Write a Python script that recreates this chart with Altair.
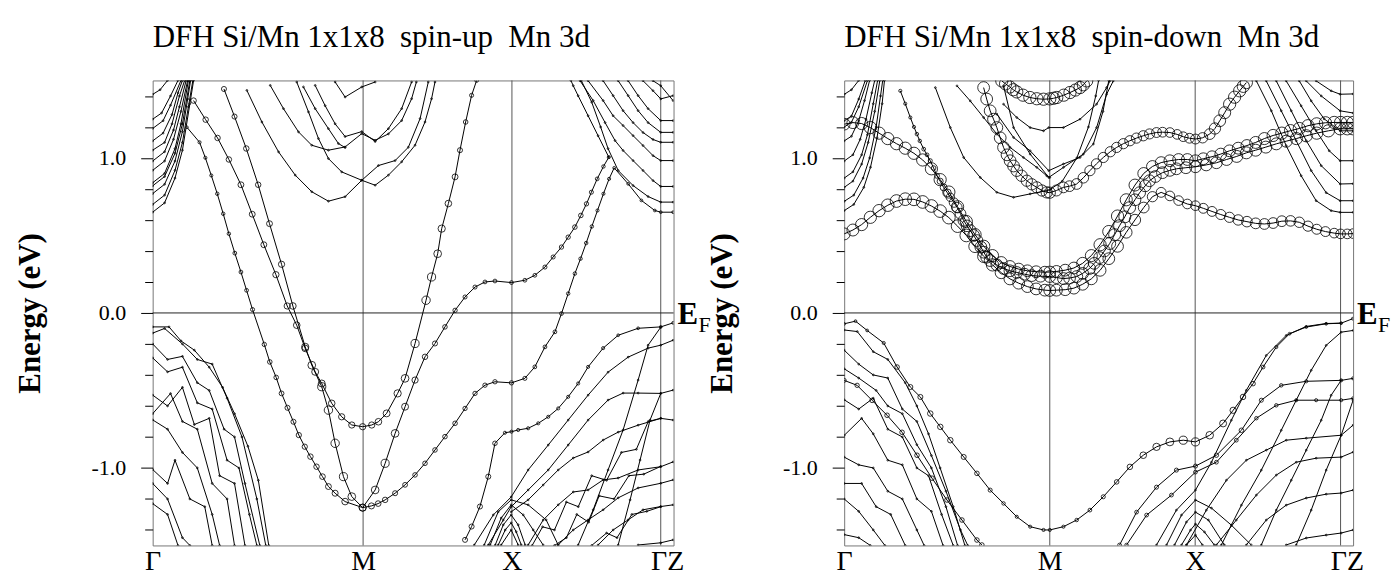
import altair as alt
import pandas as pd

SERIF = "Liberation Serif"

# ---------------- axes / labels ----------------
K_DOMAIN = [0.0, 3.5]
E_DOMAIN = [-1.5, 1.5]
K_SYM = [1.414, 2.414, 3.414]
K_LABEL_POS = [0.0, 1.414, 2.414, 3.457]
K_LABEL_TEXT = ["Γ", "M", "X", "ΓZ"]
E_TICKS = [-1.4, -1.2, -1.0, -0.8, -0.6, -0.4, -0.2, 0.0, 0.2, 0.4, 0.6, 0.8, 1.0, 1.2, 1.4]
E_LABEL_POS = [-1.0, 0.0, 1.0]
E_LABEL_TEXT = ["-1.0", "0.0", "1.0"]
EF_TEXT = ["E", "F"]
TITLE_UP = "DFH Si/Mn 1x1x8 \u00a0spin-up \u00a0Mn 3d"
TITLE_DN = "DFH Si/Mn 1x1x8 \u00a0spin-down \u00a0Mn 3d"
Y_TITLE = "Energy (eV)"

# ---------------- spin-up: bands with Mn-3d weight (k, E, w) ----------------
UP_D_A = [(0.275,1.37,0.12),(0.356,1.247,0.12),(0.436,1.129,0.12),(0.512,0.99,0.12),(0.593,0.827,0.14),
          (0.669,0.637,0.14),(0.747,0.44,0.14),(0.828,0.247,0.16),(0.904,0.045,0.16),(0.968,-0.079,0.18),
          (1.025,-0.229,0.18),(1.092,-0.38,0.2),(1.136,-0.455,0.2),(1.203,-0.583,0.18),(1.27,-0.67,0.16),
          (1.338,-0.723,0.16),(1.411,-0.734,0.16),(1.472,-0.723,0.16),(1.517,-0.702,0.18),(1.572,-0.648,0.2),
          (1.646,-0.519,0.22),(1.696,-0.422,0.25),(1.763,-0.197,0.28),(1.837,0.082,0.3),(1.874,0.232,0.28),
          (1.915,0.382,0.25),(1.942,0.544,0.22),(1.987,0.706,0.18),(2.032,0.878,0.14),(2.065,1.05,0.1),
          (2.103,1.232,0.08),(2.143,1.404,0.06),(2.177,1.5,0.05)]
UP_D_C = [(0.479,1.445,0.1),(0.55,1.267,0.1),(0.629,1.061,0.12),(0.709,0.827,0.12),(0.785,0.576,0.14),
          (0.866,0.314,0.16),(0.942,0.045,0.18),(1.025,-0.219,0.22),(1.069,-0.337,0.25),(1.136,-0.476,0.28),
          (1.181,-0.627,0.3),(1.226,-0.841,0.3),(1.282,-1.056,0.28),(1.338,-1.185,0.25),(1.411,-1.256,0.22),
          (1.495,-1.142,0.25),(1.562,-0.97,0.28),(1.629,-0.777,0.25),(1.696,-0.605,0.2),(1.763,-0.433,0.16),
          (1.83,-0.283,0.12),(1.897,-0.197,0.1),(1.964,-0.09,0.08),(2.032,0.017,0.07),(2.099,0.103,0.06),
          (2.166,0.167,0.06),(2.233,0.2,0.05),(2.3,0.206,0.05),(2.411,0.196,0.05),(2.501,0.211,0.05),
          (2.568,0.243,0.05),(2.636,0.296,0.06),(2.691,0.361,0.06),(2.747,0.425,0.07),(2.792,0.489,0.07),
          (2.837,0.554,0.08),(2.877,0.629,0.08),(2.915,0.704,0.07),(2.948,0.779,0.06),(2.987,0.865,0.05),
          (3.029,0.945,0.04),(3.065,1.005,0.03)]
UP_D_B = [(0.23,1.198,0.02),(0.315,1.101,0.03),(0.354,1.001,0.03),(0.394,0.887,0.03),(0.434,0.769,0.04),
          (0.474,0.64,0.04),(0.512,0.511,0.04),(0.552,0.386,0.05),(0.593,0.264,0.05),(0.631,0.146,0.05),
          (0.671,0.022,0.06),(0.75,-0.203,0.07),(0.787,-0.316,0.08),(0.83,-0.416,0.08),(0.866,-0.519,0.09),
          (0.906,-0.612,0.1),(0.946,-0.702,0.1),(0.982,-0.788,0.11),(1.022,-0.863,0.11),(1.06,-0.927,0.12),
          (1.101,-0.992,0.12),(1.141,-1.056,0.13),(1.181,-1.12,0.14),(1.226,-1.163,0.15),(1.293,-1.217,0.18),
          (1.411,-1.256,0.2),(1.47,-1.245,0.15),(1.515,-1.23,0.13),(1.562,-1.206,0.12),(1.629,-1.163,0.1),
          (1.696,-1.109,0.09),(1.763,-1.045,0.08),(1.83,-0.97,0.08),(1.897,-0.884,0.08),(1.964,-0.798,0.08),
          (2.032,-0.712,0.08),(2.099,-0.616,0.07),(2.166,-0.519,0.07),(2.233,-0.466,0.07),(2.3,-0.444,0.07),
          (2.411,-0.451,0.07),(2.501,-0.422,0.06),(2.568,-0.348,0.05),(2.636,-0.219,0.05),(2.703,-0.122,0.05),
          (2.747,-0.004,0.05),(2.792,0.125,0.04),(2.837,0.254,0.04),(2.875,0.35,0.04),(2.913,0.451,0.04),
          (2.951,0.558,0.04),(2.989,0.661,0.03),(3.029,0.769,0.03),(3.067,0.865,0.03),(3.101,0.936,0.02),
          (3.195,0.833,0.02),(3.284,0.726,0.02),(3.374,0.661,0.02),(3.414,0.65,0.02),(3.497,0.65,0.02)]
UP_D_D = [(2.099,-1.464,0.1),(2.143,-1.378,0.1),(2.199,-1.249,0.1),(2.255,-1.056,0.1),(2.3,-0.841,0.08),
          (2.367,-0.773,0.03),(2.411,-0.766,0.03),(2.456,-0.755,0.03),(2.523,-0.744,0.03),(2.591,-0.712,0.03),
          (2.658,-0.67,0.03),(2.725,-0.616,0.03),(2.792,-0.541,0.03),(2.859,-0.455,0.03),(2.926,-0.348,0.03),
          (3.027,-0.227,0.03),(3.128,-0.144,0.02),(3.262,-0.099,0.02),(3.414,-0.09,0.02),(3.497,-0.064,0.02)]
UP_D_BANDS = [UP_D_A, UP_D_C, UP_D_B, UP_D_D]

# ---------------- spin-up: other bands (k, E) ----------------
UP_COND_G = [
    [(0,0.65),(0.08,0.71),(0.15,0.87),(0.2,1.05),(0.25,1.35),(0.275,1.5)],
    [(0,0.70),(0.08,0.76),(0.15,0.92),(0.2,1.1),(0.24,1.33),(0.27,1.5)],
    [(0,0.77),(0.08,0.83),(0.15,0.98),(0.2,1.17),(0.235,1.38),(0.255,1.5)],
    [(0,0.82),(0.08,0.88),(0.15,1.03),(0.2,1.22),(0.25,1.5)],
    [(0,0.84),(0.08,0.9),(0.15,1.06),(0.19,1.22),(0.24,1.5)],
    [(0,0.92),(0.08,0.98),(0.14,1.12),(0.19,1.3),(0.235,1.5)],
    [(0,0.98),(0.08,1.04),(0.14,1.18),(0.18,1.33),(0.225,1.5)],
    [(0,1.05),(0.08,1.1),(0.13,1.22),(0.18,1.4),(0.215,1.5)],
    [(0,1.11),(0.07,1.16),(0.13,1.28),(0.17,1.42),(0.2,1.5)],
    [(0,1.19),(0.07,1.24),(0.12,1.34),(0.19,1.5)],
    [(0,1.25),(0.06,1.29),(0.12,1.4),(0.17,1.5)],
    [(0,1.41),(0.05,1.44),(0.1,1.5)],
]
UP_COND_M = [
    [(0.633,1.436),(0.734,1.232),(0.846,1.039),(0.958,0.889),(1.069,0.782),(1.181,0.721),(1.293,0.75),(1.405,0.856),
     (1.495,0.824),(1.584,0.889),(1.673,0.975),(1.763,1.082),(1.83,1.232),(1.874,1.382),(1.897,1.49)],
    [(0.968,1.49),(1.047,1.297),(1.114,1.125),(1.181,0.996),(1.27,0.91),(1.405,0.856),(1.517,0.951),(1.629,0.983),
     (1.718,1.069),(1.797,1.254),(1.852,1.49)],
    [(0.79,1.468),(0.879,1.318),(0.98,1.168),(1.069,1.082),(1.181,1.05),(1.293,1.071),(1.405,1.157),(1.495,1.114),
     (1.584,1.155),(1.673,1.241),(1.74,1.382),(1.772,1.49)],
    [(1.092,1.468),(1.159,1.337),(1.226,1.22),(1.293,1.138),(1.405,1.17),(1.495,1.106),(1.584,1.189),(1.673,1.318),(1.74,1.49)],
    [(1.013,1.458),(1.092,1.318),(1.181,1.189),(1.248,1.093),(1.293,1.067)],
    [(1.226,1.49),(1.293,1.393),(1.405,1.458),(1.495,1.49)],
]
UP_COND_G2 = [
    [(3.065,1.005),(2.993,1.143),(2.926,1.272),(2.859,1.401),(2.826,1.466),(2.81,1.5)],
    [(2.872,1.498),(2.96,1.37),(3.04,1.228),(3.107,1.112),(3.161,1.048),(3.228,0.983),(3.295,0.919),(3.362,0.854),(3.414,0.816),(3.497,0.816)],
    [(2.88,1.5),(2.95,1.36),(3.01,1.2),(3.06,1.06),(3.128,0.919),(3.228,0.822),(3.329,0.751),(3.414,0.715),(3.497,0.715)],
    [(2.926,1.498),(3.027,1.37),(3.094,1.272),(3.161,1.209),(3.228,1.144),(3.295,1.08),(3.362,1.015),(3.414,0.983),(3.497,0.983)],
    [(3.027,1.498),(3.094,1.402),(3.161,1.305),(3.228,1.228),(3.295,1.164),(3.362,1.119),(3.414,1.101),(3.497,1.101)],
    [(3.128,1.498),(3.195,1.402),(3.262,1.305),(3.329,1.228),(3.414,1.165),(3.497,1.165)],
    [(3.195,1.498),(3.262,1.402),(3.329,1.318),(3.414,1.241),(3.497,1.241)],
    [(3.295,1.498),(3.362,1.434),(3.414,1.381),(3.497,1.402)],
    [(3.362,1.498),(3.414,1.466),(3.497,1.37)],
]
UP_VAL_G = [
    [(0,-0.09),(0.11,-0.09),(0.19,-0.18),(0.28,-0.24),(0.38,-0.35),(0.47,-0.48),(0.55,-0.65),(0.64,-0.86),(0.71,-1.08),(0.78,-1.5)],
    [(0,-0.13),(0.08,-0.1),(0.2,-0.2),(0.3,-0.3),(0.4,-0.33),(0.5,-0.55),(0.6,-0.8),(0.7,-1.2),(0.76,-1.5)],
    [(0,-0.2),(0.1,-0.3),(0.2,-0.28),(0.3,-0.45),(0.38,-0.5),(0.48,-0.75),(0.55,-0.8),(0.62,-1.1),(0.72,-1.5)],
    [(0,-0.29),(0.1,-0.38),(0.2,-0.35),(0.3,-0.58),(0.4,-0.62),(0.5,-0.95),(0.58,-1.0),(0.65,-1.3),(0.7,-1.5)],
    [(0,-0.53),(0.1,-0.6),(0.2,-0.48),(0.28,-0.72),(0.38,-0.68),(0.45,-1.05),(0.55,-1.1),(0.62,-1.5)],
    [(0,-0.65),(0.12,-0.52),(0.2,-0.7),(0.3,-0.75),(0.4,-1.1),(0.5,-1.2),(0.55,-1.5)],
    [(0,-0.69),(0.1,-0.75),(0.2,-0.9),(0.3,-1.0),(0.4,-1.3),(0.45,-1.5)],
    [(0,-1.01),(0.1,-1.1),(0.15,-0.95),(0.25,-1.2),(0.35,-1.25),(0.4,-1.5)],
    [(0,-1.1),(0.1,-1.2),(0.2,-1.45),(0.25,-1.5)],
    [(0,-1.23),(0.1,-1.3),(0.17,-1.5)],
]
UP_VAL_X = [
    [(2.161,-1.497),(2.289,-1.303),(2.409,-1.187),(2.523,-1.013),(2.658,-0.852),(2.792,-0.691),(2.926,-0.53),(3.06,-0.382),(3.195,-0.285),(3.329,-0.227),(3.414,-0.208),(3.497,-0.176)],
    [(2.255,-1.497),(2.356,-1.336),(2.409,-1.251),(2.523,-1.142),(2.658,-1.013),(2.792,-0.852),(2.926,-0.691),(3.06,-0.562),(3.161,-0.517),(3.262,-0.517),(3.414,-0.519),(3.497,-0.498)],
    [(2.409,-1.283),(2.523,-1.206),(2.624,-1.11),(2.725,-1.013),(2.826,-0.936),(2.926,-0.897),(3.027,-0.82),(3.128,-0.769),(3.262,-0.724),(3.414,-0.68),(3.497,-0.691)],
    [(2.523,-1.497),(2.624,-1.336),(2.725,-1.238),(2.826,-1.155),(2.926,-1.142),(3.027,-1.077),(3.128,-1.065),(3.262,-1.013),(3.414,-0.992),(3.497,-0.961)],
    [(2.725,-1.497),(2.826,-1.4),(2.926,-1.335),(3.027,-1.27),(3.128,-1.193),(3.262,-1.129),(3.414,-1.099),(3.497,-1.077)],
    [(2.993,-1.497),(3.094,-1.4),(3.195,-1.335),(3.295,-1.27),(3.414,-1.249),(3.497,-1.238)],
    [(2.859,-1.497),(2.96,-1.27),(3.06,-1.013),(3.161,-0.755),(3.262,-0.433),(3.329,-0.208),(3.414,-0.092)],
    [(3.128,-1.497),(3.208,-1.206),(3.275,-0.949),(3.342,-0.691),(3.414,-0.519)],
    [(3.262,-1.497),(3.414,-1.483),(3.497,-1.464)],
    [(2.55,-1.5),(2.62,-1.38),(2.7,-1.4),(2.78,-1.22),(2.86,-1.25),(2.95,-1.05),(3.05,-1.08),(3.15,-0.9),(3.25,-0.88),(3.33,-0.7),(3.414,-0.68)],
    [(2.7,-1.5),(2.78,-1.45),(2.85,-1.3),(2.93,-1.35),(3.0,-1.18),(3.1,-1.2),(3.2,-1.05),(3.3,-1.04),(3.414,-0.99)],
    [(2.95,-1.5),(3.05,-1.42),(3.12,-1.45),(3.22,-1.3),(3.32,-1.28),(3.414,-1.25)],
    [(2.302,-1.497),(2.356,-1.367),(2.409,-1.303),(2.456,-1.367),(2.503,-1.497)],
    [(2.322,-1.497),(2.369,-1.4),(2.409,-1.354),(2.443,-1.412),(2.477,-1.497)],
    [(2.342,-1.497),(2.409,-1.4),(2.456,-1.497)],
    [(2.268,-1.497),(2.342,-1.323),(2.409,-1.238),(2.49,-1.303),(2.557,-1.4),(2.624,-1.497)],
    [(2.228,-1.497),(2.322,-1.283),(2.409,-1.206),(2.523,-1.238),(2.644,-1.335),(2.725,-1.497)],
]
UP_BANDS = UP_COND_G + UP_COND_M + UP_COND_G2 + UP_VAL_G + UP_VAL_X

# ---------------- spin-down: bands with Mn-3d weight (k, E, w) ----------------
DN_D_R1 = [(0.0,0.51,0.62),(0.06,0.535,0.62),(0.12,0.57,0.64),(0.18,0.617,0.65),(0.24,0.66,0.66),(0.3,0.695,0.68),
           (0.36,0.722,0.7),(0.42,0.734,0.7),(0.48,0.733,0.7),(0.54,0.716,0.7),(0.6,0.69,0.7),(0.66,0.657,0.7),
           (0.72,0.615,0.7),(0.78,0.56,0.7),(0.84,0.5,0.7),(0.9,0.43,0.68),(0.96,0.365,0.66),(1.02,0.31,0.65),
           (1.08,0.26,0.63),(1.14,0.22,0.62),(1.2,0.192,0.6),(1.26,0.17,0.6),(1.32,0.155,0.6),(1.38,0.147,0.6),
           (1.414,0.145,0.6),(1.46,0.147,0.6),(1.52,0.15,0.6),(1.58,0.16,0.6),(1.64,0.185,0.6),(1.7,0.22,0.6),
           (1.76,0.275,0.6),(1.82,0.35,0.6),(1.88,0.43,0.6),(1.94,0.52,0.58),(2.0,0.6,0.55),(2.06,0.68,0.5),
           (2.12,0.75,0.45),(2.18,0.778,0.42),(2.24,0.755,0.4),(2.3,0.725,0.4),(2.36,0.703,0.4),(2.416,0.692,0.4),
           (2.47,0.675,0.42),(2.53,0.655,0.42),(2.59,0.635,0.44),(2.65,0.617,0.45),(2.71,0.6,0.47),(2.77,0.589,0.48),
           (2.83,0.578,0.5),(2.89,0.574,0.5),(2.95,0.58,0.5),(3.01,0.592,0.5),(3.07,0.594,0.48),(3.13,0.585,0.47),
           (3.19,0.56,0.45),(3.25,0.54,0.43),(3.31,0.525,0.42),(3.37,0.515,0.4),(3.414,0.51,0.4),(3.46,0.51,0.4),(3.5,0.512,0.4)]
DN_D_R2 = [(0.0,1.218,0.6),(0.06,1.228,0.62),(0.12,1.222,0.64),(0.18,1.196,0.65),(0.24,1.16,0.65),(0.3,1.125,0.65),
           (0.36,1.092,0.65),(0.42,1.063,0.65),(0.48,1.03,0.65),(0.54,0.987,0.65),(0.6,0.93,0.65),(0.66,0.86,0.65),
           (0.72,0.78,0.65),(0.78,0.685,0.65),(0.84,0.59,0.65),(0.9,0.505,0.65),(0.96,0.43,0.65),(1.02,0.37,0.64),
           (1.08,0.325,0.62),(1.14,0.3,0.6),(1.2,0.283,0.6),(1.26,0.272,0.6),(1.32,0.266,0.6),(1.38,0.263,0.6),
           (1.414,0.264,0.6),(1.46,0.268,0.6),(1.52,0.276,0.6),(1.58,0.29,0.6),(1.64,0.32,0.62),(1.7,0.37,0.63),
           (1.76,0.44,0.65),(1.82,0.525,0.65),(1.88,0.625,0.65),(1.94,0.73,0.64),(2.0,0.825,0.62),(2.06,0.9,0.6),
           (2.12,0.945,0.6),(2.18,0.97,0.6),(2.24,0.982,0.6),(2.3,0.99,0.6),(2.36,0.99,0.6),(2.416,0.982,0.6),
           (2.47,0.995,0.6),(2.53,1.008,0.6),(2.59,1.025,0.6),(2.65,1.046,0.6),(2.71,1.063,0.61),(2.77,1.08,0.62),
           (2.83,1.1,0.62),(2.89,1.125,0.63),(2.95,1.145,0.64),(3.01,1.16,0.65),(3.07,1.176,0.65),(3.13,1.19,0.65),
           (3.19,1.208,0.65),(3.25,1.22,0.65),(3.31,1.227,0.65),(3.37,1.229,0.65),(3.414,1.229,0.65),(3.46,1.229,0.65),(3.5,1.229,0.65)]
DN_D_R3 = [(0.386,1.433,0.03),(0.42,1.35,0.03),(0.455,1.261,0.03),(0.48,1.2,0.03),(0.5,1.154,0.04),(0.52,1.11,0.04),
           (0.547,1.057,0.05),(0.57,1.02,0.05),(0.592,0.982,0.06),(0.615,0.935,0.08),(0.638,0.885,0.1),(0.66,0.85,0.15),
           (0.684,0.81,0.2),(0.71,0.775,0.25),(0.73,0.746,0.3),(0.755,0.712,0.38),(0.776,0.681,0.45),(0.8,0.64,0.5),
           (0.822,0.596,0.55),(0.845,0.562,0.58),(0.867,0.531,0.6),(0.89,0.5,0.6),(0.913,0.467,0.6),(0.94,0.425,0.6),
           (0.96,0.392,0.6),(0.98,0.36,0.6),(1.004,0.338,0.6),(1.05,0.31,0.6),(1.096,0.287,0.6),(1.14,0.272,0.6),
           (1.187,0.261,0.6),(1.24,0.25,0.6),(1.29,0.241,0.6),(1.35,0.237,0.6),(1.414,0.235,0.6),(1.46,0.228,0.6),
           (1.508,0.222,0.6),(1.55,0.225,0.6),(1.6,0.235,0.6),(1.64,0.255,0.6),(1.688,0.287,0.6),(1.72,0.32,0.6),
           (1.757,0.357,0.6),(1.79,0.4,0.6),(1.826,0.448,0.62),(1.86,0.505,0.62),(1.894,0.563,0.62),(1.93,0.62,0.62),
           (1.963,0.679,0.62),(2.0,0.73,0.6),(2.032,0.776,0.6),(2.07,0.82,0.6),(2.1,0.853,0.6),(2.14,0.88,0.6),
           (2.189,0.905,0.6),(2.24,0.92,0.6),(2.285,0.93,0.6),(2.35,0.937,0.6),(2.416,0.943,0.6),(2.49,0.955,0.6),
           (2.56,0.969,0.6),(2.63,0.99,0.61),(2.7,1.01,0.62),(2.766,1.033,0.62),(2.83,1.05,0.62),(2.9,1.07,0.62),
           (2.972,1.091,0.62),(3.04,1.108,0.63),(3.11,1.125,0.64),(3.178,1.143,0.65),(3.25,1.16,0.65),(3.33,1.175,0.65),
           (3.411,1.188,0.65),(3.46,1.188,0.65),(3.5,1.188,0.65)]
DN_D_R4 = [(0.959,1.454,0.6),(0.98,1.38,0.6),(1.004,1.304,0.6),(1.027,1.25,0.6),(1.05,1.196,0.6),(1.073,1.13,0.6),
           (1.096,1.068,0.6),(1.12,1.02,0.6),(1.141,0.982,0.6),(1.165,0.948,0.6),(1.187,0.918,0.58),(1.22,0.885,0.56),
           (1.256,0.853,0.55),(1.29,0.83,0.55),(1.325,0.81,0.55),(1.36,0.79,0.55),(1.393,0.778,0.55),(1.414,0.776,0.55),
           (1.46,0.79,0.52),(1.508,0.81,0.5),(1.55,0.818,0.5),(1.599,0.832,0.5),(1.645,0.872,0.48),(1.69,0.918,0.45),
           (1.735,0.962,0.45),(1.782,1.003,0.45),(1.83,1.04,0.45),(1.874,1.068,0.45),(1.92,1.092,0.45),(1.965,1.111,0.45),
           (2.01,1.128,0.45),(2.057,1.143,0.45),(2.1,1.155,0.44),(2.148,1.164,0.42),(2.19,1.166,0.41),(2.24,1.164,0.4),
           (2.29,1.152,0.4),(2.332,1.137,0.4),(2.375,1.127,0.41),(2.416,1.122,0.42),(2.465,1.13,0.46),(2.514,1.154,0.5),
           (2.55,1.19,0.55),(2.583,1.24,0.6),(2.617,1.292,0.62),(2.651,1.347,0.65),(2.685,1.392,0.65),(2.72,1.433,0.65),
           (2.745,1.462,0.65),(2.766,1.486,0.65)]
DN_D_R5 = [(0,-0.07,0.02),(0.078,-0.053,0.02),(0.158,-0.113,0.02),(0.272,-0.194,0.03),(0.364,-0.349,0.08),
           (0.455,-0.478,0.1),(0.524,-0.542,0.1),(0.592,-0.649,0.12),(0.661,-0.735,0.12),(0.73,-0.821,0.12),
           (0.822,-0.929,0.1),(0.913,-1.035,0.08),(1.004,-1.143,0.06),(1.096,-1.229,0.04),(1.187,-1.315,0.03),
           (1.279,-1.379,0.03),(1.371,-1.4,0.03),(1.414,-1.4,0.03),(1.508,-1.379,0.03),(1.599,-1.336,0.04),
           (1.69,-1.272,0.05),(1.782,-1.186,0.06),(1.874,-1.09,0.08),(1.965,-0.993,0.12),(2.057,-0.918,0.18),
           (2.148,-0.864,0.22),(2.24,-0.832,0.26),(2.332,-0.821,0.28),(2.416,-0.832,0.28),(2.514,-0.789,0.24),
           (2.606,-0.713,0.2),(2.675,-0.628,0.16),(2.743,-0.542,0.12),(2.812,-0.456,0.08),(2.881,-0.349,0.05),
           (2.972,-0.22,0.03),(3.063,-0.134,0.02),(3.178,-0.091,0.02),(3.315,-0.07,0.02),(3.418,-0.066,0.02),(3.498,-0.037,0.02)]
DN_D_R6 = [(1.084,1.497,0.65),(1.11,1.478,0.65),(1.139,1.458,0.65),(1.163,1.44,0.65),(1.187,1.426,0.65),(1.23,1.405,0.65),
           (1.277,1.39,0.65),(1.325,1.382,0.65),(1.371,1.379,0.65),(1.414,1.381,0.65),(1.44,1.385,0.65),(1.462,1.39,0.65),
           (1.51,1.405,0.65),(1.553,1.422,0.65),(1.59,1.438,0.65),(1.622,1.454,0.65),(1.645,1.472,0.65),(1.668,1.497,0.65)]
DN_D_R7 = [(0,-0.435,0.06),(0.089,-0.467,0.07),(0.192,-0.564,0.08),(0.295,-0.66,0.08),(0.398,-0.77,0.08),
           (0.501,-0.918,0.08),(0.604,-1.066,0.08),(0.707,-1.207,0.08),(0.81,-1.336,0.08),(0.913,-1.465,0.08),(0.947,-1.497,0.08)]
DN_D_S1 = [(1.894,-1.497,0.05),(2.011,-1.285,0.05),(2.148,-1.124,0.06),(2.285,-1.014,0.06),(2.416,-0.988,0.06),
           (2.56,-0.918,0.07),(2.732,-0.757,0.08),(2.869,-0.563,0.06),(3.006,-0.467,0.04),(3.178,-0.441,0.03),
           (3.418,-0.435,0.03),(3.5,-0.422,0.03)]
DN_D_S2 = [(1.942,-1.497,0.04),(2.08,-1.304,0.05),(2.251,-1.175,0.05),(2.416,-1.027,0.05),(2.56,-0.963,0.05),
           (2.697,-0.821,0.05),(2.835,-0.679,0.04),(2.972,-0.596,0.04),(3.109,-0.563,0.03),(3.246,-0.563,0.03),
           (3.418,-0.563,0.03),(3.5,-0.551,0.03)]
DN_D_BANDS = [DN_D_R1, DN_D_R2, DN_D_R3, DN_D_R4, DN_D_R5, DN_D_R6, DN_D_R7, DN_D_S1, DN_D_S2]

# ---------------- spin-down: other bands (k, E) ----------------
DN_COND_G = [
    [(0,0.66),(0.066,0.70),(0.135,0.81),(0.181,0.94),(0.226,1.13),(0.261,1.35),(0.277,1.5)],
    [(0,0.72),(0.066,0.76),(0.13,0.87),(0.175,1.0),(0.22,1.2),(0.25,1.4),(0.265,1.5)],
    [(0,0.81),(0.06,0.85),(0.12,0.96),(0.165,1.1),(0.21,1.3),(0.245,1.5)],
    [(0,0.87),(0.06,0.91),(0.12,1.02),(0.16,1.15),(0.2,1.35),(0.23,1.5)],
    [(0,0.98),(0.06,1.02),(0.11,1.12),(0.15,1.25),(0.19,1.42),(0.21,1.5)],
    [(0,1.11),(0.05,1.14),(0.1,1.24),(0.14,1.37),(0.175,1.5)],
    [(0,1.2),(0.05,1.23),(0.1,1.33),(0.16,1.5)],
    [(0,1.24),(0.05,1.27),(0.1,1.38),(0.145,1.5)],
    [(0,1.41),(0.05,1.44),(0.1,1.5)],
]
DN_COND_M = [
    [(0.627,1.454),(0.73,1.196),(0.822,1.003),(0.936,0.874),(1.05,0.778),(1.165,0.746),(1.279,0.768),(1.393,0.789),
     (1.414,0.795),(1.5,0.85),(1.6,1.0),(1.68,1.2),(1.73,1.4),(1.75,1.5)],
    [(1.096,1.465),(1.165,1.196),(1.279,1.025),(1.407,0.874),(1.508,0.939),(1.645,1.025),(1.736,1.196),(1.805,1.411),(1.851,1.497)],
    [(1.096,1.347),(1.187,1.261),(1.279,1.196),(1.371,1.175),(1.407,1.196),(1.508,1.196),(1.622,1.25),(1.736,1.347),(1.805,1.454),(1.83,1.5)],
    [(1.05,1.283),(1.165,1.132),(1.279,1.046),(1.407,0.918),(1.508,0.961),(1.622,1.003),(1.714,1.09),(1.78,1.3),(1.82,1.5)],
    [(0.776,1.465),(0.867,1.368),(0.959,1.261),(1.05,1.154),(1.141,1.068),(1.233,1.003),(1.325,0.939),(1.393,0.885),(1.414,0.874)],
]
DN_COND_G2 = [
    [(2.835,1.497),(2.938,1.304),(3.04,1.079),(3.143,0.885),(3.246,0.724),(3.349,0.66),(3.411,0.649),(3.5,0.649)],
    [(2.903,1.497),(3.006,1.304),(3.109,1.111),(3.212,0.918),(3.315,0.776),(3.411,0.724),(3.5,0.724)],
    [(2.972,1.497),(3.075,1.304),(3.178,1.111),(3.281,0.95),(3.411,0.832),(3.5,0.834)],
    [(3.04,1.497),(3.143,1.336),(3.246,1.175),(3.336,1.046),(3.411,0.982),(3.5,0.982)],
    [(3.13,1.497),(3.212,1.368),(3.301,1.252),(3.411,1.175),(3.5,1.175)],
    [(3.178,1.497),(3.281,1.4),(3.411,1.304),(3.5,1.29)],
    [(3.246,1.497),(3.349,1.433),(3.411,1.411),(3.5,1.413)],
]
DN_VAL_G = [
    [(0,-0.11),(0.09,-0.12),(0.2,-0.25),(0.3,-0.3),(0.42,-0.45),(0.5,-0.6),(0.58,-0.78),(0.66,-1.0),(0.75,-1.25),(0.83,-1.5)],
    [(0,-0.24),(0.1,-0.33),(0.2,-0.4),(0.3,-0.42),(0.4,-0.62),(0.5,-0.7),(0.6,-0.92),(0.7,-1.15),(0.8,-1.4),(0.85,-1.5)],
    [(0,-0.36),(0.1,-0.42),(0.22,-0.5),(0.3,-0.6),(0.4,-0.65),(0.5,-0.85),(0.6,-1.0),(0.7,-1.25),(0.78,-1.5)],
    [(0,-0.56),(0.1,-0.62),(0.2,-0.55),(0.3,-0.75),(0.4,-0.8),(0.5,-1.0),(0.58,-1.05),(0.67,-1.3),(0.75,-1.5)],
    [(0,-0.79),(0.12,-0.68),(0.2,-0.78),(0.3,-0.95),(0.4,-0.98),(0.5,-1.2),(0.6,-1.28),(0.68,-1.5)],
    [(0,-0.93),(0.1,-0.98),(0.2,-1.0),(0.3,-1.15),(0.4,-1.2),(0.5,-1.4),(0.55,-1.5)],
    [(0,-1.1),(0.12,-1.1),(0.22,-1.25),(0.32,-1.3),(0.42,-1.5)],
    [(0,-1.2),(0.1,-1.28),(0.2,-1.4),(0.28,-1.5)],
    [(0,-1.43),(0.1,-1.45),(0.18,-1.5)],
]
DN_VAL_X = [
    [(2.354,-1.497),(2.491,-1.272),(2.629,-1.079),(2.766,-0.95),(2.903,-0.885),(3.04,-0.821),(3.178,-0.808),(3.418,-0.789),(3.5,-0.724)],
    [(2.56,-1.497),(2.697,-1.336),(2.835,-1.175),(2.972,-1.046),(3.109,-0.963),(3.246,-0.937),(3.418,-0.93),(3.5,-0.898)],
    [(2.766,-1.497),(2.903,-1.336),(3.04,-1.24),(3.178,-1.194),(3.315,-1.169),(3.418,-1.162),(3.5,-1.143)],
    [(3.04,-1.497),(3.178,-1.452),(3.315,-1.433),(3.418,-1.42),(3.5,-1.4)],
    [(2.148,-1.497),(2.285,-1.272),(2.416,-1.143),(2.526,-0.963),(2.663,-0.692),(2.766,-0.499),(2.903,-0.274),(3.04,-0.145),(3.178,-0.087),(3.315,-0.068),(3.418,-0.066)],
    [(2.594,-1.497),(2.732,-1.24),(2.869,-1.014),(3.006,-0.757),(3.109,-0.563),(3.212,-0.37),(3.315,-0.209),(3.418,-0.124),(3.5,-0.113)],
    [(2.869,-1.497),(2.972,-1.272),(3.075,-1.079),(3.178,-0.885),(3.281,-0.692),(3.349,-0.531),(3.418,-0.435)],
    [(3.109,-1.497),(3.212,-1.272),(3.315,-1.014),(3.418,-0.789),(3.5,-0.563)],
    [(2.217,-1.497),(2.32,-1.304),(2.416,-1.207),(2.526,-1.259),(2.663,-1.369),(2.8,-1.497)],
    [(2.272,-1.497),(2.354,-1.349),(2.416,-1.285),(2.505,-1.336),(2.615,-1.497)],
    [(2.32,-1.497),(2.382,-1.401),(2.416,-1.362),(2.478,-1.413),(2.546,-1.497)],
    [(2.354,-1.497),(2.416,-1.433),(2.464,-1.497)],
]
DN_BANDS = DN_COND_G + DN_COND_M + DN_COND_G2 + DN_VAL_G + DN_VAL_X


def nested_expr(positions, texts, default):
    expr = f"'{default}'"
    for pos, txt in reversed(list(zip(positions, texts))):
        expr = f"abs(datum.value - ({pos})) < 0.01 ? '{txt}' : " + expr
    return expr


X_LABEL_EXPR = nested_expr(K_LABEL_POS[:-1], K_LABEL_TEXT[:-1], K_LABEL_TEXT[-1])
Y_LABEL_EXPR = nested_expr(E_LABEL_POS, E_LABEL_TEXT, "")

PLOT_H = 466


def panel(thin, dbands, width, title):
    rows = []
    for b, band in enumerate(thin):
        for i, (k, e) in enumerate(band):
            rows.append({"band": f"t{b}", "i": i, "k": k, "E": e, "w": 0.0})
    for b, band in enumerate(dbands):
        for i, (k, e, w) in enumerate(band):
            rows.append({"band": f"d{b}", "i": i, "k": k, "E": e, "w": w})
    df = pd.DataFrame(rows)

    xaxis = alt.Axis(values=K_LABEL_POS, labelExpr=X_LABEL_EXPR, ticks=False, domain=False, grid=False,
                     labelFont=SERIF, labelFontSize=28, labelPadding=2, labelBaseline="top",
                     labelFlush=False, labelOverlap=False, labelColor="black", title=None)
    yaxis = alt.Axis(values=E_TICKS, labelExpr=Y_LABEL_EXPR, domain=False, grid=False,
                     tickColor="black", tickWidth=1,
                     tickSize={"condition": {"test": "abs(datum.value - round(datum.value)) < 0.01", "value": 12}, "value": 8},
                     labelFont=SERIF, labelFontSize=22, labelPadding=15, labelFlush=False,
                     labelOverlap=False, labelColor="black",
                     title=Y_TITLE, titleFont=SERIF, titleFontSize=31, titleFontWeight="bold",
                     titleColor="black", titleX=-122, titleY=PLOT_H / 2, titleAngle=270,
                     titleAlign="center", titleBaseline="middle")
    X = alt.X("k:Q", scale=alt.Scale(domain=K_DOMAIN, nice=False, zero=False), axis=xaxis)
    Y = alt.Y("E:Q", scale=alt.Scale(domain=E_DOMAIN, nice=False, zero=False), axis=yaxis)

    vlines = alt.Chart(pd.DataFrame({"k": K_SYM})).mark_rule(color="#555555", strokeWidth=1).encode(x=X)
    zero = alt.Chart(pd.DataFrame({"E": [0.0]})).mark_rule(color="#222222", strokeWidth=1).encode(y=Y)
    base = alt.Chart(df)
    lines = base.mark_line(color="black", strokeWidth=1, clip=True).encode(
        x=X, y=Y, detail="band:N", order="i:Q")
    pts = base.mark_point(shape="circle", filled=False, color="black", strokeWidth=0.8,
                          opacity=1, clip=True).encode(
        x=X, y=Y, detail="band:N",
        size=alt.Size("w:Q", scale=alt.Scale(domain=[0, 1], range=[3, 230]), legend=None))
    ef = pd.DataFrame({"k": [K_DOMAIN[1]], "E": [0.0], "e": [EF_TEXT[0]], "f": [EF_TEXT[1]]})
    ef_e = alt.Chart(ef).mark_text(align="left", baseline="alphabetic", dx=4, dy=11, font=SERIF,
                                   fontSize=31, fontWeight="bold", color="black").encode(x=X, y=Y, text="e:N")
    ef_f = alt.Chart(ef).mark_text(align="left", baseline="alphabetic", dx=25, dy=19, font=SERIF,
                                   fontSize=22, color="black").encode(x=X, y=Y, text="f:N")
    return alt.layer(vlines, zero, lines, pts, ef_e, ef_f).properties(
        width=width, height=PLOT_H,
        title=alt.TitleParams(title, anchor="start", frame="group", font=SERIF, fontSize=31,
                              fontWeight="normal", color="black", offset=26))


left = panel(UP_BANDS, UP_D_BANDS, 522, TITLE_UP)
right = panel(DN_BANDS, DN_D_BANDS, 510, TITLE_DN)

chart = alt.hconcat(left, right, spacing=171, bounds="flush").properties(
    padding={"left": 14, "top": 21, "right": 0, "bottom": 0}, background="white"
).configure_view(stroke="#777777", strokeWidth=1).configure_title(
    font=SERIF, fontSize=31, fontWeight="normal", color="black", anchor="start", frame="group"
)
chart.config.style = {"group-title": {"font": SERIF, "fontSize": 31, "fontWeight": "normal"}}

chart.save("out.html", embed_options={"renderer": "svg", "actions": False})
